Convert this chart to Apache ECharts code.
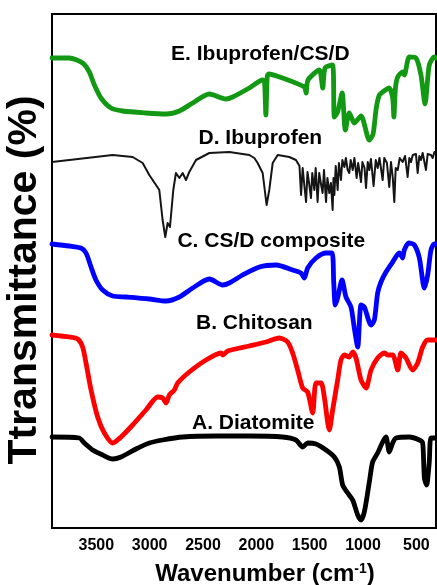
<!DOCTYPE html>
<html>
<head>
<meta charset="utf-8">
<script src="https://cdn.jsdelivr.net/npm/echarts@6/dist/echarts.min.js"></script>
<style>
  html, body { margin: 0; padding: 0; background: #fff; }
  #chart { width: 437px; height: 585px; }
</style>
</head>
<body>
<div id="chart"></div>
<script>
// FTIR spectra, stacked with vertical offsets (relative transmittance, a.u.)

// A. Diatomite
const waveA = [4000,3744,3697,3619,3525,3431,3353,3213,3088,2963,2775,2463,2150,1838,1713,1650,1603,1525,1431,1353,1306,1275,1228,1181,1134,1103,1072,1025,994,947,900,869,838,806,775,650,556,525,509,488,463,447,400];
const transA = [91,90,85,78,73,69,71,79,85,88,91,92,92,91,88,81,85,84,78,71,61,43,35,28,13,8,16,46,66,75,86,91,76,85,90,91,88,85,50,43,66,90,90];

// B. Chitosan
const waveB = [4000,3838,3759,3713,3681,3634,3572,3509,3431,3353,3244,3119,3009,2963,2931,2900,2853,2822,2713,2556,2416,2400,2353,2150,1994,1869,1791,1744,1697,1650,1603,1556,1525,1478,1447,1400,1369,1322,1291,1259,1213,1181,1150,1103,1056,1009,947,884,853,806,759,728,681,619,572,525,478,400];
const transB = [193,191,189,181,165,138,111,95,85,91,103,118,131,130,125,133,138,145,156,168,175,173,177,182,186,190,186,175,158,140,136,115,145,145,131,98,118,148,168,173,171,176,170,148,140,158,170,175,173,173,158,175,170,158,165,181,188,188];

// C. CS/D composite
const waveC = [4000,3838,3728,3681,3634,3588,3525,3431,3306,3088,2931,2806,2681,2525,2400,2338,2213,2056,1900,1744,1666,1634,1603,1525,1431,1375,1359,1344,1322,1281,1244,1197,1166,1134,1103,1072,1009,978,947,916,869,806,744,713,697,656,603,556,509,478,447,416,400];
const transC = [284,282,280,275,261,248,238,232,231,229,227,231,240,249,243,245,253,261,263,258,255,250,260,270,275,275,246,223,230,248,231,221,200,181,223,221,203,208,235,246,256,266,275,270,278,285,283,270,240,253,278,284,284];

// D. Ibuprofen
const waveD = [4000,3431,3244,3150,3088,3025,2994,2963,2938,2916,2894,2863,2838,2806,2775,2744,2713,2650,2525,2338,2150,2103,2072,2025,1988,1963,1931,1884,1775,1713,
  1697,1680,1665,1650,1632,1618,1605,1590,1572,1560,
  1541,1528,1510,1495,1480,1463,1450,1431,1418,1400,
  1385,1369,1361,1353,1340,1322,1310,1291,1278,1259,
  1245,1228,1213,1200,1181,1165,1144,1130,1115,1103,
  1090,1070,1056,1040,1025,1010,985,965,947,930,
  900,885,860,838,822,805,791,778,759,740,
  713,690,666,650,634,618,603,588,572,556,
  541,525,494,478,463,447,431,415,400];
const transD = [366,373,371,365,353,343,338,308,291,305,301,338,355,350,355,348,356,368,375,376,373,370,365,355,323,338,365,373,371,368,
  366,362,333,360,340,326,356,345,330,355,
  338,360,326,355,345,335,358,326,350,335,
  345,318,350,333,362,338,365,348,368,361,
  370,358,355,368,358,370,350,365,355,346,
  366,360,340,366,358,369,342,368,360,370,
  348,370,365,341,366,350,326,360,358,370,
  366,372,351,370,366,373,372,374,355,372,
  368,375,358,374,372,373,370,376,374];

// E. Ibuprofen/CS/D
const waveE = [4000,3838,3713,3650,3603,3541,3447,3338,3119,2931,2806,2681,2525,2369,2306,2150,2025,2008,1995,1982,1969,1838,1634,1618,1600,1494,1462,1440,1370,1353,1322,1280,1250,1213,1190,1166,1103,1025,990,960,931,900,840,806,795,780,759,713,697,650,588,541,503,463,416,400];
const transE = [470,470,465,456,443,430,420,417,415,414,417,425,434,429,431,440,448,447,413,452,454,450,441,435,448,458,440,460,463,411,416,435,398,415,410,405,412,388,394,420,433,436,440,430,411,440,451,456,453,471,470,453,424,463,471,470];

// Curve captions, anchored in data space
const labelText  = ['E. Ibuprofen/CS/D', 'D. Ibuprofen', 'C. CS/D composite', 'B. Chitosan', 'A. Diatomite'];
const labelWave  = [2047, 2047, 1944, 2103, 2113];
const labelTrans = [474, 390, 287, 205, 105];

const tickWaves = [3500, 3000, 2500, 2000, 1500, 1000, 500];

const zip = (w, t) => w.map((x, i) => [x, t[i]]);
const FONT = '"Liberation Sans", Arial, sans-serif';

const chart = echarts.init(document.getElementById('chart'), null, { renderer: 'canvas' });

const thick = (name, w, t, color) => ({
  name, type: 'line', data: zip(w, t), showSymbol: false, smooth: 0.25,
  lineStyle: { color, width: 4.8, join: 'round', cap: 'round' },
  silent: true
});

chart.setOption({
  backgroundColor: '#fff',
  animation: false,
  grid: {
    left: 52, right: 1, top: 14, bottom: 57, outerBoundsMode: 'none',
    show: true, borderColor: '#000', borderWidth: 2, backgroundColor: 'transparent'
  },
  xAxis: {
    type: 'value', min: 400, max: 4000, inverse: true,
    axisLine: { show: true, lineStyle: { color: '#000', width: 2 } },
    axisTick: { show: false },
    splitLine: { show: false },
    axisLabel: {
      customValues: tickWaves,
      formatter: v => String(v),
      color: '#000', fontSize: 16, fontWeight: 'bold', fontFamily: FONT,
      margin: 10, padding: [0, 18, 0, 0]
    },
    name: '{a|Wavenumber (cm}{s|-1}{a|)}',
    nameLocation: 'middle', nameGap: 34,
    nameTextStyle: {
      padding: [0, 0, 0, 42],
      rich: {
        a: { fontSize: 24, fontWeight: 'bold', fontFamily: FONT, color: '#000' },
        s: { fontSize: 14, fontWeight: 'bold', fontFamily: FONT, color: '#000', verticalAlign: 'top', padding: [0, 0, 10, 0] }
      }
    }
  },
  yAxis: {
    type: 'value', min: 0, max: 514,
    axisLine: { show: true, lineStyle: { color: '#000', width: 2 } },
    axisTick: { show: false }, axisLabel: { show: false }, splitLine: { show: false },
    name: 'Ttransmittance (%)', nameLocation: 'middle', nameGap: 7, nameRotate: 90,
    nameTextStyle: { fontSize: 41, fontWeight: 'bold', fontFamily: FONT, color: '#000', padding: [0, 18, 0, 0] }
  },
  series: [
    thick('A. Diatomite', waveA, transA, '#000000'),
    thick('B. Chitosan', waveB, transB, '#ff0000'),
    thick('C. CS/D composite', waveC, transC, '#0000ff'),
    {
      name: 'D. Ibuprofen', type: 'line', data: zip(waveD, transD), showSymbol: false,
      lineStyle: { color: '#151515', width: 2, join: 'round' }, silent: true
    },
    thick('E. Ibuprofen/CS/D', waveE, transE, '#129812'),
    {
      name: 'captions', type: 'scatter', symbolSize: 0, silent: true, z: 5,
      itemStyle: { color: '#000', opacity: 1 },
      data: labelText.map((s, i) => [labelWave[i], labelTrans[i], s]),
      label: {
        show: true, position: 'inside', formatter: p => p.data[2],
        color: '#000', opacity: 1, textBorderWidth: 0,
        fontSize: 21, fontWeight: 'bold', fontFamily: FONT
      }
    }
  ]
});
</script>
</body>
</html>
